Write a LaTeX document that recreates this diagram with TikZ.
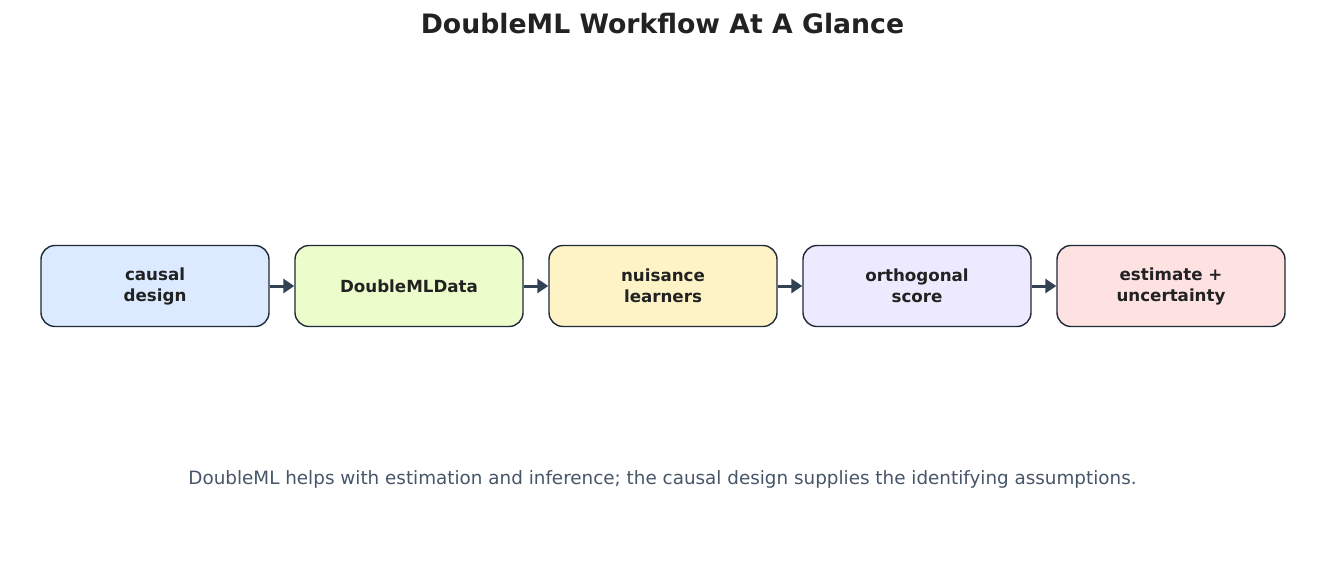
\documentclass[tikz,border=0pt]{standalone}
\usepackage{fontspec}
\setmainfont{DejaVu Sans}
\usetikzlibrary{arrows.meta}
\definecolor{edge}{HTML}{1F2937}
\definecolor{arr}{HTML}{334155}
\definecolor{txt}{HTML}{222222}
\definecolor{sub}{HTML}{475569}
\definecolor{cA}{HTML}{DBEAFE}
\definecolor{cB}{HTML}{ECFCCB}
\definecolor{cC}{HTML}{FEF3C7}
\definecolor{cD}{HTML}{EDE9FE}
\definecolor{cE}{HTML}{FEE2E2}
\tikzset{
  stagebox/.style={draw=edge, line width=1.4pt, rounded corners=14pt,
    minimum width=228pt, minimum height=81pt, inner sep=0pt, align=center,
    text=txt, font=\fontsize{16.7}{21}\selectfont\bfseries},
  flowarrow/.style={draw=arr, line width=3pt, -{Triangle[length=11pt,width=14pt]}, shorten >=0pt}
}
\begin{document}
\begin{tikzpicture}[x=1pt,y=1pt]
\useasboundingbox[fill=white] (0,0) rectangle (1325,-582);
\node[font=\fontsize{26.7}{30}\selectfont\bfseries, text=txt] (title) at (662.5,-24) {DoubleML Workflow At A Glance};
\node[stagebox, fill=cA] (s1) at (155,-286) {causal\\design};
\node[stagebox, fill=cB] (s2) at (409,-286) {DoubleMLData};
\node[stagebox, fill=cC] (s3) at (663,-286) {nuisance\\learners};
\node[stagebox, fill=cD] (s4) at (917,-286) {orthogonal\\score};
\node[stagebox, fill=cE] (s5) at (1171,-286) {estimate +\\uncertainty};
\draw[flowarrow] (s1) -- (s2);
\draw[flowarrow] (s2) -- (s3);
\draw[flowarrow] (s3) -- (s4);
\draw[flowarrow] (s4) -- (s5);
\node[font=\fontsize{18.35}{22}\selectfont, text=sub] (note) at (662.5,-479) {DoubleML helps with estimation and inference; the causal design supplies the identifying assumptions.};
\end{tikzpicture}
\end{document}
